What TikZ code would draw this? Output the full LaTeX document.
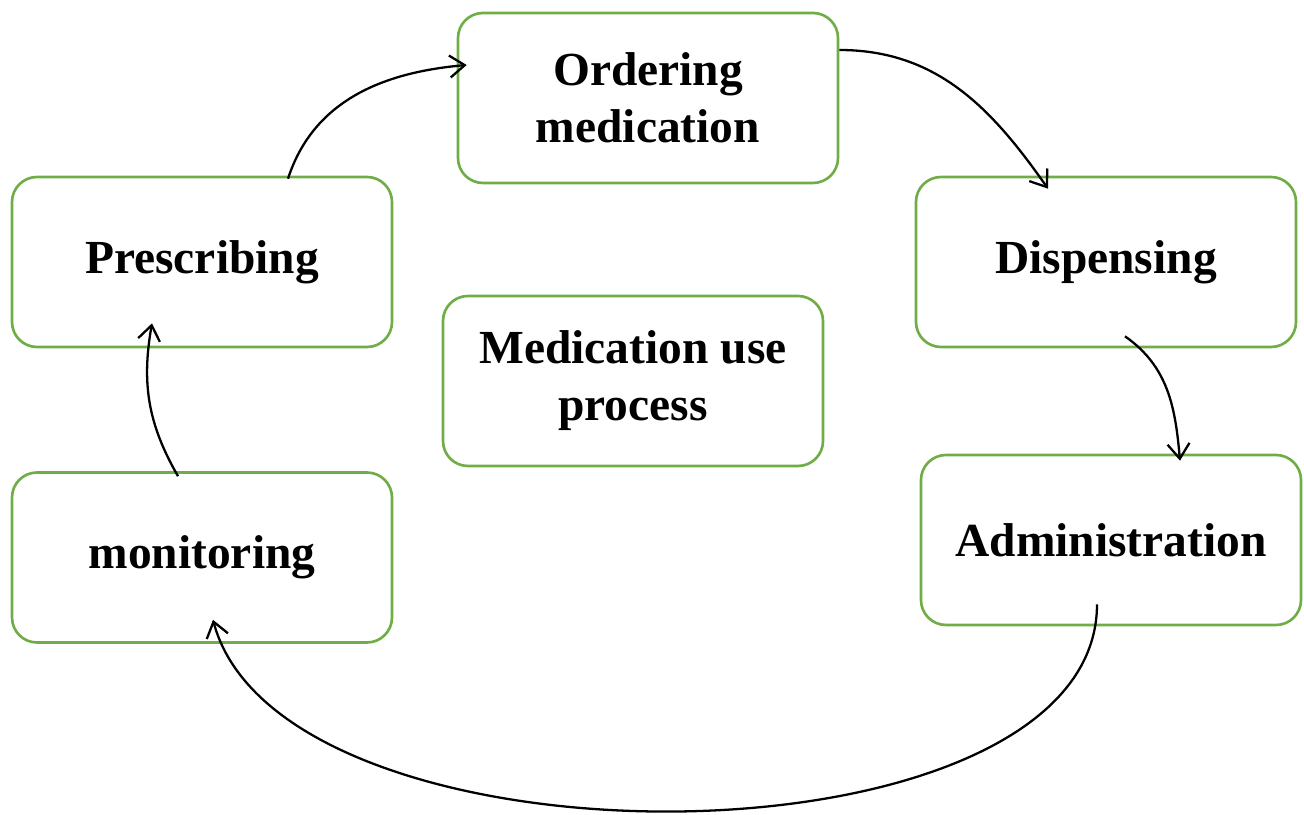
\documentclass[tikz,border=0pt]{standalone}
\usepackage{fontspec}
\setmainfont{Liberation Serif}
\usetikzlibrary{calc,arrows.meta}
\definecolor{boxgreen}{HTML}{70AD47}

\begin{document}
\begin{tikzpicture}[
		stagebox/.style={draw=boxgreen, line width=1.5pt, rounded corners=0.5cm,
			minimum width=7.6cm, minimum height=3.4cm, align=center,
			font=\bfseries\fontsize{27}{32.4}\selectfont},
		flow/.style={line width=1.3pt, -{Straight Barb[length=3mm,width=4.4mm]}}
	]
		%%%%% START %%%%%
		
		\useasboundingbox (0, 0) rectangle (26.08, 16.3);
		
		\node[stagebox] (order) at (12.96, 14.34) {Ordering\\medication};
		\node[stagebox] (presc) at (4.04, 11.06) {Prescribing};
		\node[stagebox] (disp) at (22.12, 11.06) {Dispensing};
		\node[stagebox] (muse) at (12.66, 8.68) {Medication use\\process};
		\node[stagebox] (admin) at (22.22, 5.5) {Administration};
		\node[stagebox] (monit) at (4.04, 5.15) {monitoring};
		
		\draw[flow] ($(presc.north)+(1.72,-0.06)$) to[out=72, in=185] ($(order.west)+(0.2,0.66)$);
		\draw[flow] ($(order.east)+(0,0.96)$) to[out=0, in=125] ($(disp.north)+(-1.16,-0.26)$);
		\draw[flow] ($(disp.south)+(0.38,0.24)$) to[out=-35, in=95] ($(admin.north)+(1.38,-0.14)$);
		\draw[flow] ($(admin.south)+(-0.28,0.44)$) to[out=-90, in=-75, looseness=0.78] ($(monit.south)+(0.22,0.48)$);
		\draw[flow] ($(monit.north)+(-0.48,-0.1)$) to[out=120, in=-100] ($(presc.south)+(-1.0,0.5)$);
		
		%%%%% END %%%%%
	\end{tikzpicture}
\end{document}
